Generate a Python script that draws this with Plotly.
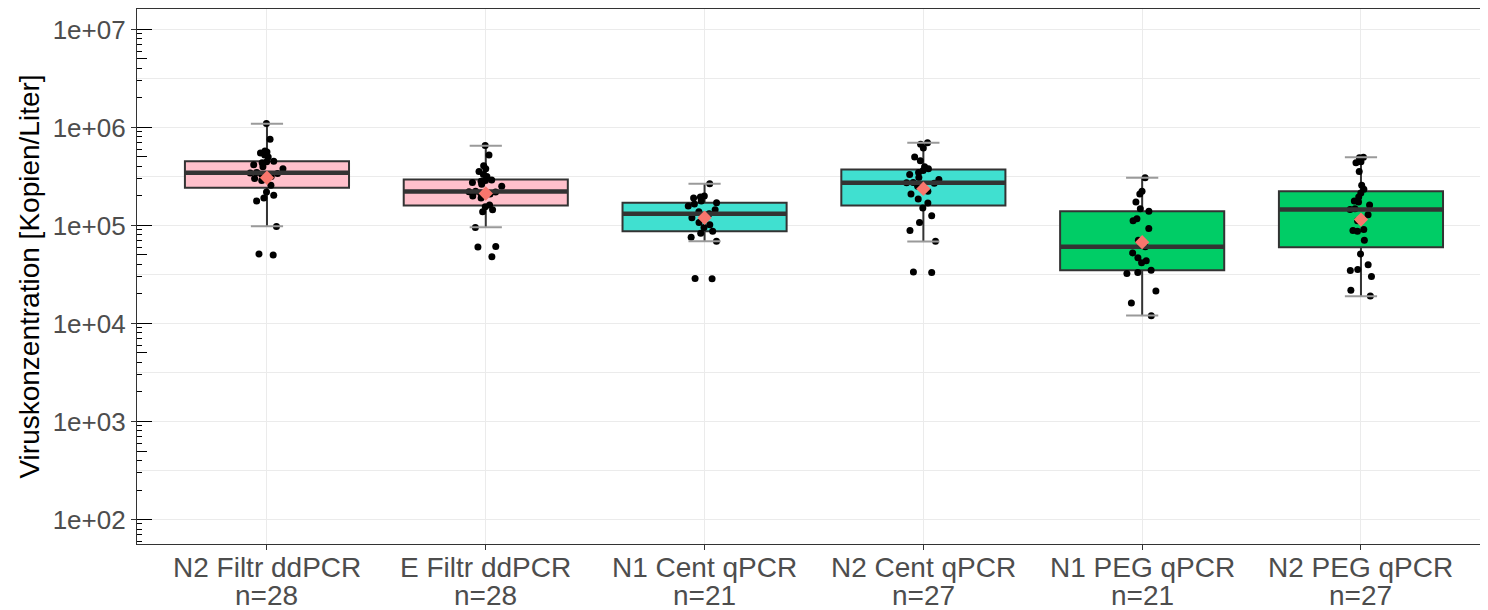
import plotly.graph_objects as go

# ---------------- data ----------------
categories = ["N2 Filtr ddPCR", "E Filtr ddPCR", "N1 Cent qPCR",
              "N2 Cent qPCR", "N1 PEG qPCR", "N2 PEG qPCR"]
fill_colors = ["#FFC0CB", "#FFC0CB", "#40E0D0", "#40E0D0", "#00CD66", "#00CD66"]

n2_filtr_ddpcr = [5.01e4, 5.13e4, 9.77e4, 1.78e5, 1.91e5, 2.04e5, 2.19e5, 2.57e5,
                  2.88e5, 3.02e5, 3.16e5, 3.31e5, 3.39e5, 3.43e5, 3.47e5, 3.80e5,
                  3.98e5, 4.17e5, 4.37e5, 4.47e5, 4.52e5, 5.01e5, 5.25e5, 5.50e5,
                  5.62e5, 5.75e5, 7.59e5, 1.10e6]
e_filtr_ddpcr = [4.79e4, 6.03e4, 6.10e4, 9.55e4, 1.38e5, 1.45e5, 1.55e5, 1.62e5,
                 1.91e5, 2.00e5, 2.09e5, 2.14e5, 2.19e5, 2.21e5, 2.24e5, 2.51e5,
                 2.63e5, 2.75e5, 2.82e5, 2.88e5, 2.92e5, 3.16e5, 3.31e5, 3.55e5,
                 3.80e5, 4.07e5, 5.25e5, 6.55e5]
n1_cent_qpcr = [2.86e4, 2.88e4, 6.92e4, 7.59e4, 8.32e4, 8.75e4, 9.55e4, 1.02e5,
                1.07e5, 1.20e5, 1.32e5, 1.38e5, 1.45e5, 1.58e5, 1.66e5, 1.71e5,
                1.78e5, 1.91e5, 1.95e5, 2.00e5, 2.66e5]
n2_cent_qpcr = [3.31e4, 3.35e4, 6.92e4, 8.91e4, 1.07e5, 1.26e5, 1.51e5, 1.70e5,
                1.86e5, 2.09e5, 2.24e5, 2.51e5, 2.69e5, 2.73e5, 2.75e5, 2.95e5,
                3.09e5, 3.31e5, 3.47e5, 3.63e5, 3.80e5, 3.98e5, 4.57e5, 5.01e5,
                6.17e5, 6.76e5, 7.00e5]
n1_peg_qpcr = [1.20e4, 1.62e4, 2.14e4, 3.24e4, 3.31e4, 3.50e4, 4.17e4, 4.37e4,
               4.68e4, 5.25e4, 6.07e4, 7.08e4, 9.33e4, 1.12e5, 1.17e5, 1.40e5,
               1.48e5, 1.74e5, 2.09e5, 2.24e5, 3.07e5]
n2_peg_qpcr = [1.91e4, 2.19e4, 3.02e4, 3.47e4, 3.55e4, 3.98e4, 5.13e4, 7.08e4,
               8.71e4, 8.91e4, 9.12e4, 1.12e5, 1.29e5, 1.46e5, 1.48e5, 1.62e5,
               1.74e5, 1.78e5, 1.95e5, 2.14e5, 2.34e5, 2.57e5, 3.55e5, 4.37e5,
               4.47e5, 4.90e5, 4.98e5]
points = [n2_filtr_ddpcr, e_filtr_ddpcr, n1_cent_qpcr,
          n2_cent_qpcr, n1_peg_qpcr, n2_peg_qpcr]

# box statistics as drawn in the reference
q1_vals = [2.43e5, 1.60e5, 8.75e4, 1.60e5, 3.50e4, 6.00e4]
median_vals = [3.45e5, 2.22e5, 1.32e5, 2.73e5, 6.07e4, 1.46e5]
q3_vals = [4.53e5, 2.94e5, 1.71e5, 3.72e5, 1.40e5, 2.24e5]
whisker_low = [9.85e4, 9.60e4, 6.90e4, 6.87e4, 1.21e4, 1.90e4]
whisker_high = [1.09e6, 6.50e5, 2.66e5, 6.98e5, 3.07e5, 4.98e5]
mean_vals = [3.07e5, 2.12e5, 1.20e5, 2.37e5, 6.76e4, 1.15e5]

decades = [1e2, 1e3, 1e4, 1e5, 1e6, 1e7]
decade_labels = ["1e+02", "1e+03", "1e+04", "1e+05", "1e+06", "1e+07"]

# ---------------- figure ----------------
FONT = "Liberation Sans, Arial, sans-serif"
DARK = "#333333"
GREY_TEXT = "#4D4D4D"
fig = go.Figure()

# error-bar caps (grey)
fig.add_trace(go.Scatter(
    x=categories + categories, y=whisker_low + whisker_high, mode="markers",
    marker=dict(symbol="line-ew", size=23, line=dict(color="#9A9A9A", width=2)),
    showlegend=False, hoverinfo="skip"))

# boxes
for i, cat in enumerate(categories):
    fig.add_trace(go.Box(
        x=[cat], q1=[q1_vals[i]], median=[median_vals[i]], q3=[q3_vals[i]],
        lowerfence=[whisker_low[i]], upperfence=[whisker_high[i]],
        fillcolor=fill_colors[i], line=dict(color=DARK, width=2),
        whiskerwidth=0, width=0.75, boxpoints=False, showlegend=False))

# thick median lines
fig.add_trace(go.Scatter(
    x=categories, y=median_vals, mode="markers",
    marker=dict(symbol="line-ew", size=117, line=dict(color=DARK, width=4.5)),
    showlegend=False, hoverinfo="skip"))

# jittered raw points
for i, cat in enumerate(categories):
    fig.add_trace(go.Box(
        x=[cat] * len(points[i]), y=points[i], boxpoints="all", jitter=0.22,
        pointpos=0, width=0.75, fillcolor="rgba(0,0,0,0)",
        line=dict(color="rgba(0,0,0,0)", width=0),
        marker=dict(color="black", size=7), showlegend=False))

# means
fig.add_trace(go.Scatter(
    x=categories, y=mean_vals, mode="markers",
    marker=dict(symbol="diamond", size=11, color="#F8766D"),
    showlegend=False))

# dummy traces so the log-tick overlay axes are drawn
fig.add_trace(go.Scatter(x=[], y=[], yaxis="y2", showlegend=False))
fig.add_trace(go.Scatter(x=[], y=[], yaxis="y3", showlegend=False))

yr = [1.75, 7.209]
half_decades = [d * 10 ** 0.5 for d in decades]
fives = [5 * d / 10 for d in decades + [1e8]]
others = [m * d / 10 for d in decades + [1e8] for m in (2, 3, 4, 6, 7, 8, 9)]

# two-line category labels (name, n=...) as text below the axis
x_labels = []
for c, p in zip(categories, points):
    x_labels.append(dict(x=c, y=0, xref="x", yref="paper", text=c,
                         showarrow=False, yanchor="middle", yshift=-23,
                         font=dict(family=FONT, size=28, color=GREY_TEXT)))
    x_labels.append(dict(x=c, y=0, xref="x", yref="paper", text=f"n={len(p)}",
                         showarrow=False, yanchor="middle", yshift=-51,
                         font=dict(family=FONT, size=28, color=GREY_TEXT)))

fig.update_layout(
    width=1480, height=602,
    margin=dict(l=129, r=1, t=1, b=66),
    paper_bgcolor="white", plot_bgcolor="white",
    boxmode="overlay",
    font=dict(family=FONT),
    annotations=x_labels,
    xaxis=dict(
        type="category", range=[-0.594, 5.576],
        tickvals=categories, showticklabels=False,
        ticks="outside", ticklen=5, tickcolor=DARK, tickwidth=1,
        showgrid=True, gridcolor="#EBEBEB", gridwidth=1.2,
        showline=True, linecolor=DARK, linewidth=1.2, mirror=True,
        zeroline=False),
    yaxis=dict(
        type="log", range=yr, tickvals=decades, ticktext=decade_labels,
        ticks="outside", ticklen=5, tickcolor=DARK, tickwidth=1,
        showgrid=True, gridcolor="#EBEBEB", gridwidth=1.2,
        minor=dict(tickvals=half_decades, ticks="", showgrid=True,
                   gridcolor="#EBEBEB", gridwidth=0.8),
        showline=True, linecolor=DARK, linewidth=1.2, mirror=True,
        zeroline=False,
        title=dict(text="Viruskonzentration [Kopien/Liter]",
                   font=dict(family=FONT, size=28, color="black"), standoff=4),
        tickfont=dict(family=FONT, size=26, color=GREY_TEXT)),
    yaxis2=dict(
        type="log", range=yr, overlaying="y", anchor="x", side="left",
        tickvals=decades, ticks="inside", ticklen=15, tickcolor="black",
        tickwidth=1, showticklabels=False, showgrid=False, showline=False,
        zeroline=False,
        minor=dict(tickvals=fives, ticks="inside", ticklen=10,
                   tickcolor="black", tickwidth=1, showgrid=False)),
    yaxis3=dict(
        type="log", range=yr, overlaying="y", anchor="x", side="left",
        tickvals=others, ticks="inside", ticklen=5, tickcolor="black",
        tickwidth=1, showticklabels=False, showgrid=False, showline=False,
        zeroline=False),
)

fig.write_html("out.html")
